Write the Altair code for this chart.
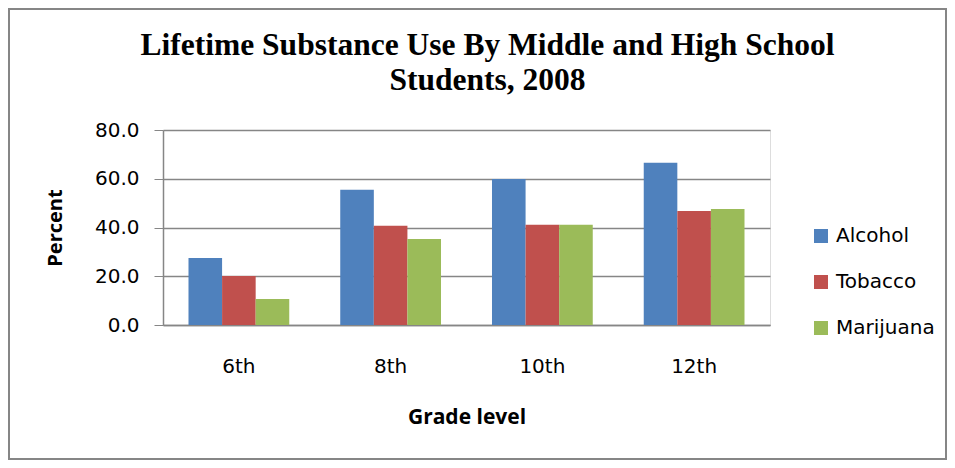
import altair as alt
import pandas as pd

grades = ["6th", "8th", "10th", "12th"]
substances = ["Alcohol", "Tobacco", "Marijuana"]
alcohol = [27.5, 55.5, 59.9, 66.6]
tobacco = [20.1, 40.7, 41.1, 46.8]
marijuana = [10.7, 35.3, 41.1, 47.6]
colors = ["#4F81BD", "#C0504D", "#9BBB59"]

rows = []
for i, g in enumerate(grades):
    for s, vals in zip(substances, [alcohol, tobacco, marijuana]):
        rows.append({"Grade": g, "Substance": s, "Percent": vals[i]})
df = pd.DataFrame(rows)

W, H = 607, 195
PL, PT = 155, 122
TOTW, TOTH = 939, 452

bars = alt.Chart(df).mark_bar().encode(
    x=alt.X("Grade:N", sort=grades,
            scale=alt.Scale(paddingInner=0.336, paddingOuter=0.168),
            axis=alt.Axis(title="Grade level", labelAngle=0, ticks=False,
                          labelFont="DejaVu Sans", labelFontSize=20, labelColor="#000",
                          labelPadding=31, titleFont="Open Sans", titleFontSize=21,
                          titleFontWeight="bold", titleColor="#000", titlePadding=30,
                          domainColor="#868686", domainWidth=1.5)),
    xOffset=alt.XOffset("Substance:N", sort=substances),
    y=alt.Y("Percent:Q", scale=alt.Scale(domain=[0, 80]),
            axis=alt.Axis(values=[0, 20, 40, 60, 80], format=".1f", title="Percent",
                          labelFont="DejaVu Sans", labelFontSize=20, labelColor="#000",
                          labelPadding=15, tickSize=9, tickColor="#868686",
                          domainColor="#868686", domainWidth=1.5,
                          gridColor="#868686", gridWidth=1.5,
                          titleFont="Open Sans", titleFontSize=20, titleFontWeight="bold",
                          titleColor="#000", titlePadding=29)),
    color=alt.Color("Substance:N", sort=substances,
                    scale=alt.Scale(domain=substances, range=colors),
                    legend=alt.Legend(title=None, orient="none", legendX=648, legendY=96,
                                      symbolType="square", symbolSize=196,
                                      symbolStrokeWidth=0, labelFont="DejaVu Sans",
                                      labelFontSize=20, labelColor="#000",
                                      rowPadding=26, labelOffset=5)),
)

frame = alt.Chart(pd.DataFrame({"a": [0]})).mark_rect(
    fill=None, stroke="#868686", strokeWidth=2
).encode(
    x=alt.value(-PL + 1), x2=alt.value(TOTW - PL - 1),
    y=alt.value(-PT + 1), y2=alt.value(TOTH - PT - 1),
)

chart = alt.layer(bars, frame).properties(
    width=W, height=H,
    autosize=alt.AutoSizeParams(type="none"),
    padding={"left": PL, "top": PT, "right": TOTW - PL - W, "bottom": TOTH - PT - H},
    title=alt.TitleParams(
        text=["Lifetime Substance Use By Middle and High School", "Students, 2008"],
        font="Liberation Serif", fontSize=31.5, fontWeight="bold", color="#000",
        anchor="middle", dx=21, offset=-88, lineHeight=35,
    ),
).configure_view(stroke=None).configure(background="white")

chart.save("out.html", embed_options={"renderer": "svg", "actions": False})
